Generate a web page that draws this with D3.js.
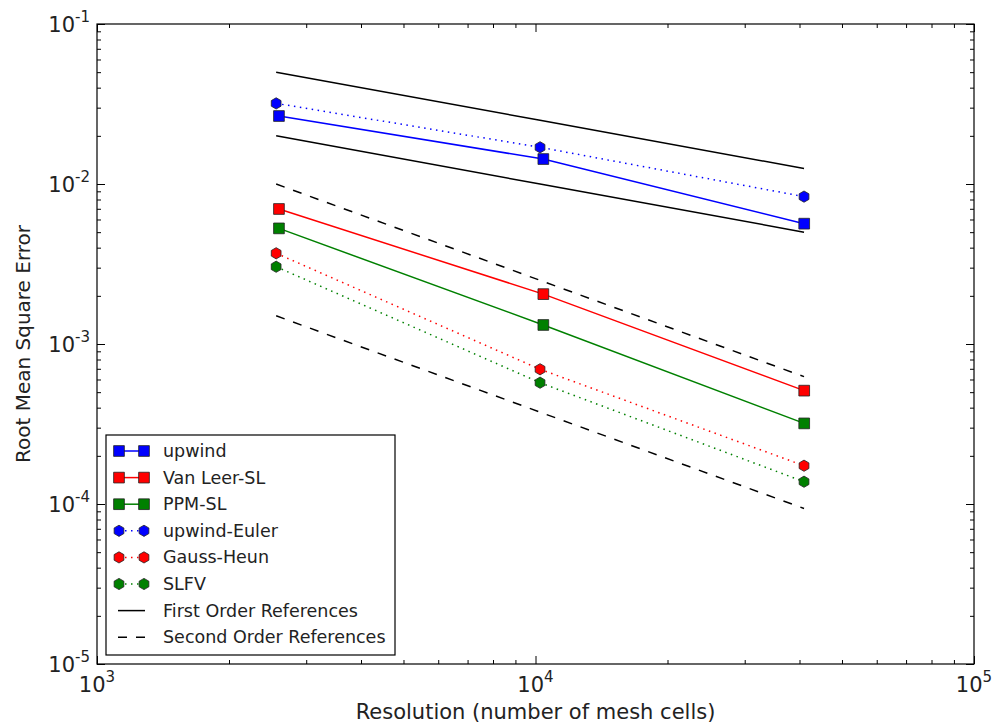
<!DOCTYPE html>
<html lang="en">
<head>
<meta charset="UTF-8">
<script src="https://d3js.org/d3.v7.min.js"></script>
<style>
  body { margin: 0; background: #fff; }
  svg { font-family: "DejaVu Sans", sans-serif; }
  .axis path { stroke-width: 0; }
  .axis line { stroke: #000; stroke-width: 1px; }
  .ref { fill: none; stroke: #000; stroke-width: 1.5px; }
  .series { fill: none; stroke-width: 1.5px; }
  .marker { stroke: #222; stroke-width: 0.8px; }
</style>
</head>
<body>
<script>
// mesh sizes (x) for the two mesh families
var cellsQuad = [2600, 10420, 41000];
var cellsHex = [2562, 10242, 40962];

// RMS errors
var upwind = [0.0266, 0.01432, 0.00565];
var vanLeerSL = [0.00698, 0.00205, 0.000511];
var ppmSL = [0.00528, 0.001315, 0.000319];
var upwindEuler = [0.0319, 0.01696, 0.00834];
var gaussHeun = [0.00369, 0.000695, 0.0001735];
var slfv = [0.00304, 0.000573, 0.0001378];

// reference slopes
var firstHigh = [0.05, 0.025, 0.0125];
var firstLow = [0.02, 0.01, 0.005];
var secondHigh = [0.01, 0.0025, 0.000625];
var secondLow = [0.0015, 0.000375, 0.0000938];

var xTicks = [1e3, 1e4, 1e5], xExp = ["3", "4", "5"];
var yTicks = [1e-5, 1e-4, 1e-3, 1e-2, 1e-1], yExp = ["-5", "-4", "-3", "-2", "-1"];

var seriesList = [
  {name: "upwind", x: cellsQuad, y: upwind, color: "#0000ff", marker: "square", dash: null},
  {name: "Van Leer-SL", x: cellsQuad, y: vanLeerSL, color: "#ff0000", marker: "square", dash: null},
  {name: "PPM-SL", x: cellsQuad, y: ppmSL, color: "#008000", marker: "square", dash: null},
  {name: "upwind-Euler", x: cellsHex, y: upwindEuler, color: "#0000ff", marker: "hex", dash: "1.5,4.5"},
  {name: "Gauss-Heun", x: cellsHex, y: gaussHeun, color: "#ff0000", marker: "hex", dash: "1.5,4.5"},
  {name: "SLFV", x: cellsHex, y: slfv, color: "#008000", marker: "hex", dash: "1.5,4.5"}
];
var refList = [
  {y: firstHigh, dash: null}, {y: firstLow, dash: null},
  {y: secondHigh, dash: "9,9"}, {y: secondLow, dash: "9,9"}
];

var W = 992, H = 726;
var plotL = 97, plotR = 974, plotT = 24, plotB = 664;

var xscale = d3.scaleLog().domain([1e3, 1e5]).range([plotL, plotR]);
var yscale = d3.scaleLog().domain([1e-5, 1e-1]).range([plotB, plotT]);

var svg = d3.select("body").append("svg")
  .attr("width", W).attr("height", H);
svg.append("rect").attr("width", W).attr("height", H).attr("fill", "#fff");

// pointy-top hexagon symbol (matplotlib "h")
var hexSymbol = {
  draw: function(ctx, size) {
    var r = Math.sqrt(size / 2.598);
    for (var i = 0; i < 6; i++) {
      var a = Math.PI / 3 * i - Math.PI / 2;
      if (i == 0) ctx.moveTo(r * Math.cos(a), r * Math.sin(a));
      else ctx.lineTo(r * Math.cos(a), r * Math.sin(a));
    }
    ctx.closePath();
  }
};
function markerPath(kind) {
  return kind == "square"
    ? d3.symbol().type(d3.symbolSquare).size(115)()
    : d3.symbol().type(hexSymbol).size(82)();
}

// minor & major ticks, pointing inwards on all four sides
var xMinor = xscale.ticks().filter(function(d) { return xTicks.indexOf(d) < 0; });
var yMinor = yscale.ticks().filter(function(d) { return yTicks.indexOf(d) < 0; });

function addAxis(axis, tx, ty) {
  svg.append("g").attr("class", "axis")
    .attr("transform", "translate(" + tx + "," + ty + ")")
    .call(axis.tickFormat(""));
}
addAxis(d3.axisBottom(xscale).tickValues(xTicks).tickSize(-8), 0, plotB);
addAxis(d3.axisBottom(xscale).tickValues(xMinor).tickSize(-4), 0, plotB);
addAxis(d3.axisTop(xscale).tickValues(xTicks).tickSize(-8), 0, plotT);
addAxis(d3.axisTop(xscale).tickValues(xMinor).tickSize(-4), 0, plotT);
addAxis(d3.axisLeft(yscale).tickValues(yTicks).tickSize(-8), plotL, 0);
addAxis(d3.axisLeft(yscale).tickValues(yMinor).tickSize(-4), plotL, 0);
addAxis(d3.axisRight(yscale).tickValues(yTicks).tickSize(-8), plotR, 0);
addAxis(d3.axisRight(yscale).tickValues(yMinor).tickSize(-4), plotR, 0);

// tick labels with superscript exponents
xTicks.forEach(function(d, i) {
  var t = svg.append("text")
    .attr("x", xscale(d)).attr("y", plotB + 28)
    .attr("text-anchor", "middle")
    .style("font-size", "21px").attr("fill", "#222");
  t.append("tspan").text("10");
  t.append("tspan").attr("dy", -10).style("font-size", "15px").text(xExp[i]);
});
yTicks.forEach(function(d, i) {
  var t = svg.append("text")
    .attr("x", plotL - 7).attr("y", yscale(d) + 8)
    .attr("text-anchor", "end")
    .style("font-size", "21px").attr("fill", "#222");
  t.append("tspan").text("10");
  t.append("tspan").attr("dy", -10).style("font-size", "15px").text(yExp[i]);
});

// axis titles
svg.append("text")
  .attr("text-anchor", "middle")
  .attr("transform", "translate(30," + ((plotT + plotB) / 2) + ")rotate(-90)")
  .style("font-size", "20px").attr("fill", "#222")
  .text("Root Mean Square Error");
svg.append("text")
  .attr("text-anchor", "middle")
  .attr("x", (plotL + plotR) / 2).attr("y", 719)
  .style("font-size", "21px").attr("fill", "#222")
  .text("Resolution (number of mesh cells)");

// reference lines
refList.forEach(function(r) {
  var pts = cellsHex.map(function(x, i) { return [x, r.y[i]]; });
  svg.append("path")
    .datum(pts)
    .attr("class", "ref")
    .attr("stroke-dasharray", r.dash)
    .attr("d", d3.line()
      .x(function(d) { return xscale(d[0]); })
      .y(function(d) { return yscale(d[1]); }));
});

// data series
seriesList.forEach(function(s) {
  var pts = s.x.map(function(x, i) { return [x, s.y[i]]; });
  svg.append("path")
    .datum(pts)
    .attr("class", "series")
    .attr("stroke", s.color)
    .attr("stroke-dasharray", s.dash)
    .attr("d", d3.line()
      .x(function(d) { return xscale(d[0]); })
      .y(function(d) { return yscale(d[1]); }));
  svg.selectAll(null).data(pts).enter().append("path")
    .attr("class", "marker")
    .attr("fill", s.color)
    .attr("transform", function(d) { return "translate(" + xscale(d[0]) + "," + yscale(d[1]) + ")"; })
    .attr("d", markerPath(s.marker));
});

// frame
svg.append("rect")
  .attr("x", plotL).attr("y", plotT)
  .attr("width", plotR - plotL).attr("height", plotB - plotT)
  .attr("fill", "none").attr("stroke", "#000").attr("stroke-width", 1.2);

// legend
var legend = svg.append("g").attr("transform", "translate(106,435)");
legend.append("rect")
  .attr("width", 289).attr("height", 220)
  .attr("fill", "#fff").attr("stroke", "#000").attr("stroke-width", 1.2);

var legendItems = seriesList.map(function(s) {
  return {name: s.name, color: s.color, marker: s.marker, dash: s.dash};
}).concat([
  {name: "First Order References", color: "#000", marker: null, dash: null},
  {name: "Second Order References", color: "#000", marker: null, dash: "9,9"}
]);

legendItems.forEach(function(it, i) {
  var ly = 16 + i * 26.6;
  var g = legend.append("g").attr("transform", "translate(0," + ly + ")");
  if (it.marker) {
    g.append("line")
      .attr("x1", 13).attr("x2", 38)
      .attr("stroke", it.color).attr("stroke-width", 1.5)
      .attr("stroke-dasharray", it.dash);
    [13, 38].forEach(function(mx) {
      g.append("path")
        .attr("class", "marker")
        .attr("fill", it.color)
        .attr("transform", "translate(" + mx + ",0)")
        .attr("d", markerPath(it.marker));
    });
  } else {
    g.append("line")
      .attr("x1", 12).attr("x2", 39)
      .attr("stroke", it.color).attr("stroke-width", 1.5)
      .attr("stroke-dasharray", it.dash ? "9,9" : null);
  }
  g.append("text")
    .attr("x", 57).attr("y", 6)
    .style("font-size", "17.5px").attr("fill", "#222")
    .text(it.name);
});
</script>
</body>
</html>
